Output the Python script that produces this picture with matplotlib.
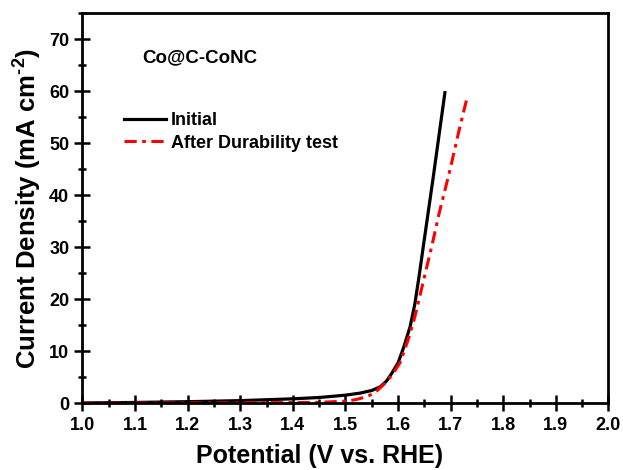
import numpy as np
import matplotlib.pyplot as plt
from matplotlib.ticker import MultipleLocator

plt.rcParams['font.family'] = ['Liberation Sans', 'DejaVu Sans']
plt.rcParams['font.weight'] = 'bold'
plt.rcParams['mathtext.fontset'] = 'custom'
plt.rcParams['mathtext.rm'] = 'Liberation Sans:bold'
plt.rcParams['mathtext.bf'] = 'Liberation Sans:bold'
plt.rcParams['mathtext.default'] = 'bf'

# curves (potential V vs RHE, current mA cm-2)
initial_v = [1.00, 1.10, 1.20, 1.30, 1.40, 1.45, 1.50, 1.528, 1.55, 1.566, 1.578,
             1.588, 1.600, 1.611, 1.623, 1.632, 1.640, 1.648, 1.667, 1.689]
initial_j = [0.10, 0.20, 0.35, 0.55, 0.90, 1.15, 1.60, 2.00, 2.50, 3.20, 4.30,
             5.80, 7.80, 10.9, 14.8, 19.2, 24.5, 30.2, 43.6, 59.7]

after_v = [1.00, 1.10, 1.20, 1.30, 1.40, 1.45, 1.50, 1.52, 1.54, 1.555, 1.566,
           1.578, 1.591, 1.604, 1.619, 1.632, 1.642, 1.654, 1.664, 1.678,
           1.699, 1.716, 1.732]
after_j = [0.05, 0.07, 0.10, 0.13, 0.18, 0.22, 0.45, 0.75, 1.30, 2.00, 3.00,
           4.20, 5.80, 7.90, 12.2, 16.7, 20.9, 26.0, 30.2, 36.5,
           45.0, 52.5, 59.1]

fig = plt.figure(figsize=(6.23, 4.70), dpi=100)
ax = fig.add_axes([0.1324, 0.1415, 0.8443, 0.8308])

ax.plot(initial_v, initial_j, color='black', lw=2.3, label='Initial')
ax.plot(after_v, after_j, color='red', lw=2.2, dashes=(4, 1.8, 1.2, 1.8),
        label='After Durability test')

ax.set_xlim(1.0, 2.0)
ax.set_ylim(0, 75)
ax.xaxis.set_major_locator(MultipleLocator(0.1))
ax.xaxis.set_minor_locator(MultipleLocator(0.05))
ax.yaxis.set_major_locator(MultipleLocator(10))
ax.yaxis.set_minor_locator(MultipleLocator(5))
ax.tick_params(which='major', direction='inout', length=12, width=1.8,
               labelsize=13, top=False, right=False)
ax.tick_params(which='minor', direction='inout', length=6, width=1.8,
               top=False, right=False)
for lab in ax.get_xticklabels() + ax.get_yticklabels():
    lab.set_fontweight('bold')
for sp in ax.spines.values():
    sp.set_linewidth(2)

ax.set_xlabel('Potential (V vs. RHE)', fontsize=18, fontweight='bold', labelpad=4)
ax.xaxis.set_label_coords(0.4515, -0.105)
ax.set_ylabel('Current Density (mA cm$^{\u2010 2}$)', fontsize=18.5,
              fontweight='bold', labelpad=4)

ax.text(0.113, 0.885, 'Co@C-CoNC', transform=ax.transAxes, fontsize=13.5,
        fontweight='bold', ha='left', va='center')

leg = ax.legend(loc='upper left', bbox_to_anchor=(0.079, 0.746), frameon=False,
                borderpad=0, borderaxespad=0, handlelength=2.3,
                handletextpad=0.3, labelspacing=0.3,
                prop={'size': 13, 'weight': 'bold'})

fig.savefig('out.png', dpi=100)
